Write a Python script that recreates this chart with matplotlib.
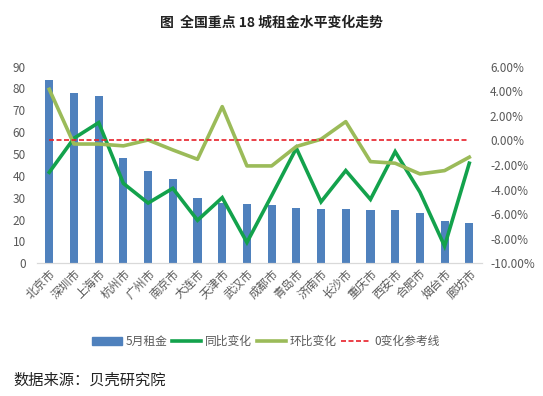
import matplotlib
matplotlib.use("Agg")
import matplotlib.pyplot as plt
from matplotlib.ticker import FuncFormatter, FixedLocator
from matplotlib.patches import Patch
from matplotlib.lines import Line2D

plt.rcParams['font.family'] = ['Noto Sans CJK SC', 'DejaVu Sans']

cities = ["北京市", "深圳市", "上海市", "杭州市", "广州市", "南京市", "大连市", "天津市", "武汉市",
          "成都市", "青岛市", "济南市", "长沙市", "重庆市", "西安市", "合肥市", "烟台市", "廊坊市"]
rent_may = [83.9, 78.1, 76.6, 48.3, 42.2, 38.6, 30.0, 27.8, 27.1,
            26.7, 25.5, 24.9, 24.9, 24.4, 24.4, 23.0, 19.4, 18.3]
yoy_pct = [-2.6, 0.17, 1.44, -3.5, -5.1, -3.9, -6.5, -4.66, -8.3,
           -4.5, -0.64, -5.0, -2.46, -4.8, -0.92, -4.2, -8.6, -1.86]
mom_pct = [4.15, -0.3, -0.3, -0.45, 0.03, -0.78, -1.54, 2.74, -2.08,
           -2.08, -0.5, 0.09, 1.52, -1.73, -1.86, -2.73, -2.46, -1.37]
ref_pct = [0.0] * len(cities)

bar_color = "#4F81BD"
yoy_color = "#13A24C"
mom_color = "#9BBB59"
ref_color = "#E8202A"
tick_color = "#595959"

fig = plt.figure(figsize=(5.43, 3.96), dpi=100)
ax = fig.add_axes([0.068, 0.335, 0.819, 0.497])
ax2 = ax.twinx()

x = list(range(len(cities)))
ax.bar(x, rent_may, width=0.33, color=bar_color, zorder=2)
ax.set_xlim(-0.5, len(cities) - 0.5)
ax.set_ylim(0, 90)
ax.yaxis.set_major_locator(FixedLocator(range(0, 91, 10)))

ax2.plot(x, yoy_pct, color=yoy_color, lw=2.6, zorder=3, solid_joinstyle='miter')
ax2.plot(x, mom_pct, color=mom_color, lw=2.6, zorder=3)
ax2.plot(x, ref_pct, color=ref_color, lw=1.2, ls=(0, (3, 1.5)), zorder=4)
ax2.set_ylim(-10, 6)
ax2.yaxis.set_major_locator(FixedLocator(range(-10, 7, 2)))
ax2.yaxis.set_major_formatter(FuncFormatter(lambda v, p: f"{v:.2f}%"))

for a in (ax, ax2):
    for s in ("top", "left", "right"):
        a.spines[s].set_visible(False)
    a.spines["bottom"].set_color("#D9D9D9")
    a.tick_params(axis='y', length=0, labelsize=8.5, colors=tick_color)
ax.tick_params(axis='y', pad=8)
ax2.tick_params(axis='y', pad=6)
ax.set_xticks(x)
ax.set_xticklabels(cities, rotation=45, ha='right', rotation_mode='anchor', fontsize=8.5, color=tick_color)
ax.tick_params(axis='x', length=0, pad=3)

handles = [Patch(color=bar_color),
           Line2D([0], [0], color=yoy_color, lw=2.6),
           Line2D([0], [0], color=mom_color, lw=2.6),
           Line2D([0], [0], color=ref_color, lw=1.2, ls=(0, (3, 1.5)))]
labels = ["5月租金", "同比变化", "环比变化", "0变化参考线"]
leg = fig.legend(handles, labels, loc='center', bbox_to_anchor=(0.49, 0.137), ncol=4, frameon=False,
                 fontsize=8.5, handlelength=2.5, handletextpad=0.3, columnspacing=0.4)
for t in leg.get_texts():
    t.set_color(tick_color)

fig.text(0.5, 0.943, "图  全国重点 18 城租金水平变化走势", ha='center', va='center', fontsize=10,
         fontweight='bold', color="#222222")
fig.text(0.025, 0.04, "数据来源：贝壳研究院", ha='left', va='center', fontsize=11, color="#222222")

fig.savefig("out.png", dpi=100)
